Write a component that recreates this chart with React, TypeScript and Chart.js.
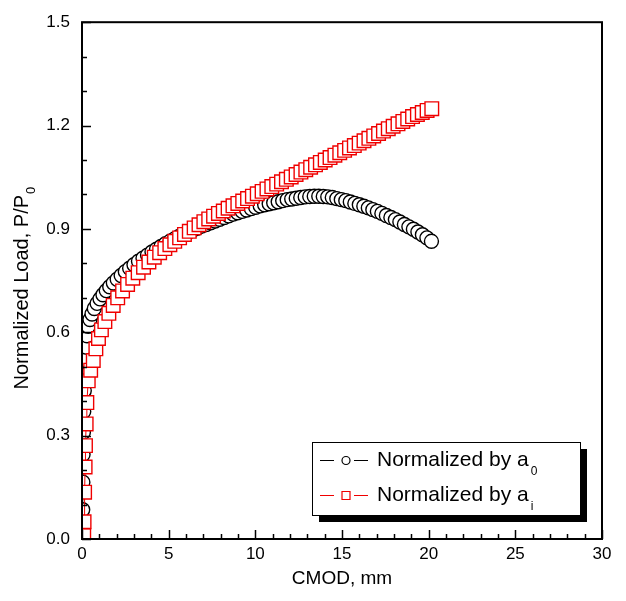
import React, { useEffect, useRef } from "react";
import { Chart, registerables } from "chart.js";

Chart.register(...registerables);

const FONT = "'Liberation Sans', Arial, sans-serif";

// CMOD (mm) and normalized load for "Normalized by a0"
const blackX = [
  0.03, 0.04, 0.05, 0.06, 0.08, 0.10, 0.13, 0.16, 0.19, 0.23, 0.29, 0.36, 0.46, 0.58, 0.71, 0.87,
  1.04, 1.21, 1.40, 1.60, 1.81, 2.03, 2.26, 2.50, 2.75, 3.00, 3.26, 3.52, 3.78, 4.04, 4.30, 4.56,
  4.82, 5.08, 5.34, 5.60, 5.86, 6.12, 6.38, 6.64, 6.90, 7.16, 7.42, 7.68, 7.94, 8.20, 8.46, 8.72,
  8.98, 9.24, 9.50, 9.76, 10.02, 10.28, 10.54, 10.80, 11.06, 11.32, 11.58, 11.84, 12.10, 12.36,
  12.62, 12.88, 13.14, 13.40, 13.66, 13.92, 14.18, 14.44, 14.70, 14.96, 15.22, 15.48, 15.74, 16.00,
  16.26, 16.52, 16.78, 17.04, 17.30, 17.56, 17.82, 18.08, 18.34, 18.60, 18.86, 19.12, 19.38, 19.64,
  19.90, 20.16,
];
const blackY = [
  0.005, 0.085, 0.165, 0.245, 0.31, 0.37, 0.43, 0.475, 0.52, 0.557, 0.59, 0.617, 0.637, 0.653, 0.669, 0.684,
  0.697, 0.709, 0.721, 0.732, 0.743, 0.754, 0.765, 0.776, 0.786, 0.796, 0.806, 0.815, 0.824, 0.833, 0.841, 0.849,
  0.857, 0.864, 0.871, 0.878, 0.884, 0.89, 0.896, 0.902, 0.908, 0.913, 0.918, 0.923, 0.928, 0.933, 0.938, 0.943,
  0.947, 0.951, 0.955, 0.959, 0.963, 0.967, 0.97, 0.973, 0.976, 0.979, 0.982, 0.985, 0.987, 0.989,
  0.991, 0.993, 0.994, 0.995, 0.995, 0.994, 0.993, 0.991, 0.988, 0.985, 0.982, 0.978, 0.974, 0.97,
  0.966, 0.961, 0.956, 0.951, 0.945, 0.939, 0.933, 0.927, 0.92, 0.913, 0.906, 0.899, 0.891, 0.883,
  0.874, 0.864,
];

// CMOD (mm) and normalized load for "Normalized by ai"
const redX = [
  0.10, 0.12, 0.15, 0.18, 0.20, 0.24, 0.28, 0.36, 0.50, 0.65, 0.80, 0.95, 1.12, 1.32, 1.55, 1.80,
  2.06, 2.34, 2.63, 2.93, 3.24, 3.55, 3.86, 4.17, 4.48, 4.78, 5.07, 5.35, 5.63, 5.91, 6.19, 6.47,
  6.75, 7.03, 7.31, 7.59, 7.87, 8.15, 8.43, 8.71, 8.99, 9.27, 9.55, 9.83, 10.11, 10.39, 10.67, 10.95,
  11.23, 11.51, 11.79, 12.07, 12.35, 12.63, 12.91, 13.19, 13.47, 13.75, 14.03, 14.31, 14.59, 14.87,
  15.15, 15.43, 15.71, 15.99, 16.27, 16.55, 16.83, 17.11, 17.39, 17.67, 17.95, 18.23, 18.51, 18.79,
  19.07, 19.35, 19.63, 19.91, 20.18,
];
const redY = [
  0.01, 0.05, 0.136, 0.209, 0.271, 0.334, 0.396, 0.459, 0.49, 0.518, 0.552, 0.582, 0.607, 0.631, 0.655, 0.678,
  0.7, 0.72, 0.739, 0.757, 0.773, 0.789, 0.804, 0.818, 0.831, 0.843, 0.854, 0.864, 0.874, 0.884, 0.893, 0.903,
  0.912, 0.921, 0.929, 0.937, 0.945, 0.952, 0.96, 0.967, 0.974, 0.981, 0.988, 0.995, 1.002, 1.009, 1.016, 1.023,
  1.03, 1.037, 1.044, 1.051, 1.058, 1.065, 1.072, 1.079, 1.086, 1.093, 1.1, 1.107, 1.114, 1.121,
  1.128, 1.135, 1.142, 1.149, 1.156, 1.163, 1.17, 1.177, 1.184, 1.191, 1.198, 1.205, 1.212, 1.219,
  1.226, 1.232, 1.238, 1.244, 1.249,
];

const xMin = 0, xMax = 30, xMajor = 5, xMinor = 1;
const yMin = 0, yMax = 1.5, yMajor = 0.3, yMinor = 0.1;

const seriesNames = ["Normalized by a", "Normalized by a"];
const seriesSubs = ["0", "i"];
const xTitle = "CMOD, mm";
const yTitleMain = "Normalized Load, P/P";
const yTitleSub = "0";

const RED = "#f00000";

const decoPlugin = {
  id: "deco",
  afterDraw(chart: any) {
    const ctx = chart.ctx as CanvasRenderingContext2D;
    const { left, right, top, bottom } = chart.chartArea;
    const xs = chart.scales.x;
    const ys = chart.scales.y;
    ctx.save();
    // ticks (inward)
    ctx.strokeStyle = "#000";
    ctx.lineWidth = 1.5;
    for (let i = 0; i <= Math.round((xMax - xMin) / xMinor); i++) {
      const v = xMin + i * xMinor;
      const px = Math.round(xs.getPixelForValue(v)) + 0.5;
      const major = Math.abs(v / xMajor - Math.round(v / xMajor)) < 1e-6;
      const len = major ? 9 : 5;
      ctx.beginPath();
      ctx.moveTo(px, bottom);
      ctx.lineTo(px, bottom - len);
      ctx.stroke();
    }
    for (let i = 0; i <= Math.round((yMax - yMin) / yMinor); i++) {
      const v = yMin + i * yMinor;
      const py = Math.round(ys.getPixelForValue(v)) + 0.5;
      const major = Math.abs(v / yMajor - Math.round(v / yMajor)) < 1e-6;
      const len = major ? 9 : 5;
      ctx.beginPath();
      ctx.moveTo(left, py);
      ctx.lineTo(left + len, py);
      ctx.stroke();
    }
    // frame
    ctx.lineWidth = 2;
    ctx.strokeRect(left, top, right - left, bottom - top);

    // axis titles
    ctx.fillStyle = "#000";
    ctx.font = `19px ${FONT}`;
    ctx.textAlign = "center";
    ctx.textBaseline = "middle";
    ctx.fillText(xTitle, (left + right) / 2, 579);

    ctx.save();
    ctx.translate(22, (top + bottom) / 2 + 8);
    ctx.rotate(-Math.PI / 2);
    ctx.font = `20px ${FONT}`;
    const wMain = ctx.measureText(yTitleMain).width;
    ctx.font = `13px ${FONT}`;
    const wSub = ctx.measureText(yTitleSub).width;
    const start = -(wMain + wSub) / 2;
    ctx.textAlign = "left";
    ctx.textBaseline = "middle";
    ctx.font = `20px ${FONT}`;
    ctx.fillText(yTitleMain, start, 0);
    ctx.font = `13px ${FONT}`;
    ctx.fillText(yTitleSub, start + wMain + 1, 9);
    ctx.restore();

    // legend
    const bx = 312, by = 442, bw = 268, bh = 73, sh = 7;
    ctx.fillStyle = "#000";
    ctx.fillRect(bx + sh, by + sh, bw, bh);
    ctx.fillStyle = "#fff";
    ctx.fillRect(bx, by, bw, bh);
    ctx.strokeStyle = "#000";
    ctx.lineWidth = 1;
    ctx.strokeRect(bx + 0.5, by + 0.5, bw, bh);

    const rows = [by + 18, by + 53];
    const colors = ["#000", RED];
    for (let r = 0; r < 2; r++) {
      const cy = rows[r];
      ctx.strokeStyle = colors[r];
      ctx.lineWidth = 1;
      ctx.beginPath();
      ctx.moveTo(bx + 8, cy + 0.5);
      ctx.lineTo(bx + 22, cy + 0.5);
      ctx.moveTo(bx + 42, cy + 0.5);
      ctx.lineTo(bx + 56, cy + 0.5);
      ctx.stroke();
      ctx.lineWidth = 1.2;
      ctx.beginPath();
      if (r === 0) {
        ctx.arc(bx + 34, cy + 0.5, 4, 0, Math.PI * 2);
      } else {
        ctx.rect(bx + 30, cy - 3.5, 8, 8);
      }
      ctx.stroke();
      ctx.fillStyle = "#000";
      ctx.textAlign = "left";
      ctx.textBaseline = "middle";
      ctx.font = `21px ${FONT}`;
      ctx.fillText(seriesNames[r], bx + 65, cy);
      const w = ctx.measureText(seriesNames[r]).width;
      ctx.font = `12px ${FONT}`;
      ctx.fillText(seriesSubs[r], bx + 65 + w + 2, cy + 12);
    }
    ctx.restore();
  },
};

export default function App() {
  const ref = useRef<HTMLCanvasElement | null>(null);
  useEffect(() => {
    if (!ref.current) return;
    const black = blackX.map((x, i) => ({ x, y: blackY[i] }));
    const red = redX.map((x, i) => ({ x, y: redY[i] }));
    const chart = new Chart(ref.current, {
      type: "scatter",
      data: {
        datasets: [
          {
            label: seriesNames[0] + seriesSubs[0],
            data: black,
            showLine: true,
            borderColor: "#000",
            borderWidth: 1,
            pointStyle: "circle",
            pointRadius: 7,
            pointBorderWidth: 1.4,
            pointBorderColor: "#000",
            pointBackgroundColor: "#fff",
            order: 1,
          },
          {
            label: seriesNames[1] + seriesSubs[1],
            data: red,
            showLine: true,
            borderColor: RED,
            borderWidth: 1,
            pointStyle: "rect",
            pointRadius: 9.6,
            pointBorderWidth: 1.4,
            pointBorderColor: RED,
            pointBackgroundColor: "#fff",
            order: 0,
          },
        ],
      },
      options: {
        responsive: false,
        animation: false,
        events: [],
        layout: { padding: { left: 0, right: 24, top: 19, bottom: 0 } },
        plugins: { legend: { display: false }, tooltip: { enabled: false } },
        scales: {
          x: {
            type: "linear",
            min: xMin,
            max: xMax,
            grid: { display: false, drawTicks: false },
            border: { display: false },
            ticks: {
              stepSize: xMajor,
              padding: 5,
              color: "#000",
              font: { family: FONT, size: 17 },
              maxRotation: 0,
            },
            afterFit: (s: any) => {
              s.height = 62;
            },
          },
          y: {
            type: "linear",
            min: yMin,
            max: yMax,
            grid: { display: false, drawTicks: false },
            border: { display: false },
            ticks: {
              stepSize: yMajor,
              padding: 12,
              color: "#000",
              font: { family: FONT, size: 17 },
              callback: (v: any) => Number(v).toFixed(1),
            },
            afterFit: (s: any) => {
              s.width = 82;
            },
          },
        },
      },
      plugins: [decoPlugin],
    });
    return () => chart.destroy();
  }, []);
  return (
    <div style={{ position: "fixed", left: 0, top: 0, width: 626, height: 601, background: "#fff" }}>
      <canvas ref={ref} width={626} height={601} />
    </div>
  );
}
